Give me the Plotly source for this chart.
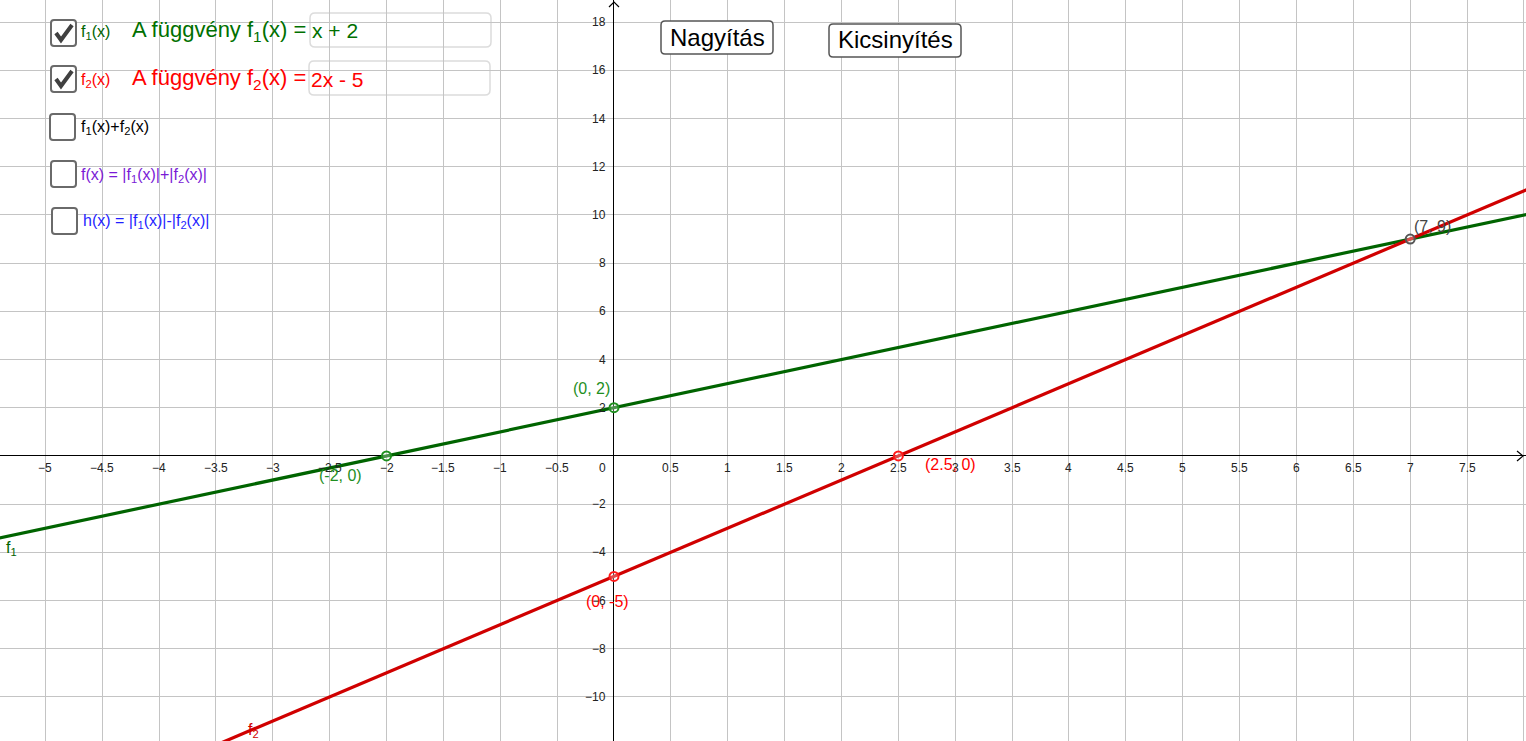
import plotly.graph_objects as go

W, H = 1526, 741
X_RANGE = [-5.398, 8.018]
Y_RANGE = [-11.83, 18.92]

# ---- data ----
x_tick_vals = [-5, -4.5, -4, -3.5, -3, -2.5, -2, -1.5, -1, -0.5,
               0.5, 1, 1.5, 2, 2.5, 3, 3.5, 4, 4.5, 5, 5.5, 6, 6.5, 7, 7.5]
x_tick_text = ["\u22125", "\u22124.5", "\u22124", "\u22123.5", "\u22123", "\u22122.5", "\u22122",
               "\u22121.5", "\u22121", "\u22120.5", "0.5", "1", "1.5", "2", "2.5", "3", "3.5",
               "4", "4.5", "5", "5.5", "6", "6.5", "7", "7.5"]
y_tick_vals = [-10, -8, -6, -4, -2, 2, 4, 6, 8, 10, 12, 14, 16, 18]
y_tick_text = ["\u221210", "\u22128", "\u22126", "\u22124", "\u22122",
               "2", "4", "6", "8", "10", "12", "14", "16", "18"]

f1_x = [-5.6, 8.2]
f1_y = [-3.6, 10.2]
f2_x = [-5.6, 8.2]
f2_y = [-16.2, 11.4]

pt_x = [0, -2, 2.5, 0, 7]
pt_y = [2, 0, 0, -5, 9]
pt_labels = ["(0, 2)", "(-2, 0)", "(2.5, 0)", "(0, -5)", "(7, 9)"]
pt_colors = ["#1f8f1f", "#1f8f1f", "#ff1a1a", "#ff1a1a", "#555555"]
pt_text_colors = ["#1f8f1f", "#1f8f1f", "#ff0000", "#ff0000", "#444444"]
pt_shift_x = [-22, -46, 52, -6, 22]
pt_shift_y = [19, -20, -9, -25, 13]

GREEN = "#006400"
RED = "#d00000"
FONT = "Liberation Sans, Arial, sans-serif"


def px(x):
    return x / W


def py(y):
    return 1 - y / H


def rrect(x0, y0, x1, y1, r):
    rx, ry = r, r
    pts = [
        f"M {px(x0 + rx)},{py(y0)}",
        f"L {px(x1 - rx)},{py(y0)}",
        f"Q {px(x1)},{py(y0)} {px(x1)},{py(y0 + ry)}",
        f"L {px(x1)},{py(y1 - ry)}",
        f"Q {px(x1)},{py(y1)} {px(x1 - rx)},{py(y1)}",
        f"L {px(x0 + rx)},{py(y1)}",
        f"Q {px(x0)},{py(y1)} {px(x0)},{py(y1 - ry)}",
        f"L {px(x0)},{py(y0 + ry)}",
        f"Q {px(x0)},{py(y0)} {px(x0 + rx)},{py(y0)}",
        "Z",
    ]
    return " ".join(pts)


def poly(points):
    return "M " + " L ".join(f"{px(a)},{py(b)}" for a, b in points)


fig = go.Figure()

fig.add_trace(go.Scatter(x=f1_x, y=f1_y, mode="lines",
                         line=dict(color=GREEN, width=3.2), hoverinfo="skip"))
fig.add_trace(go.Scatter(x=f2_x, y=f2_y, mode="lines",
                         line=dict(color=RED, width=3.2), hoverinfo="skip"))
fig.add_trace(go.Scatter(x=pt_x, y=pt_y, mode="markers",
                         marker=dict(symbol="circle", size=9, color="rgba(255,255,255,0.3)",
                                     line=dict(color=pt_colors, width=2)),
                         hoverinfo="skip"))

ann = []
# tick labels
for v, t in zip(x_tick_vals, x_tick_text):
    ann.append(dict(x=v, y=0, xref="x", yref="y", text=t, showarrow=False,
                    xanchor="center", yanchor="middle", yshift=-12,
                    font=dict(family=FONT, size=12, color="#222")))
ann.append(dict(x=0, y=0, xref="x", yref="y", text="0", showarrow=False,
                xanchor="center", yanchor="middle", yshift=-12, xshift=-11,
                font=dict(family=FONT, size=12, color="#222")))
for v, t in zip(y_tick_vals, y_tick_text):
    ann.append(dict(x=0, y=v, xref="x", yref="y", text=t, showarrow=False,
                    xanchor="right", yanchor="middle", xshift=-6,
                    font=dict(family=FONT, size=12, color="#222")))

# point labels
for xv, yv, t, c, sx, sy in zip(pt_x, pt_y, pt_labels, pt_text_colors, pt_shift_x, pt_shift_y):
    ann.append(dict(x=xv, y=yv, xref="x", yref="y", text=t, showarrow=False,
                    xanchor="center", yanchor="middle", xshift=sx, yshift=sy,
                    font=dict(family=FONT, size=16, color=c)))

# curve labels
ann.append(dict(x=px(4), y=py(548), xref="paper", yref="paper", text="f<sub>1</sub>",
                showarrow=False, xanchor="left", yanchor="middle",
                font=dict(family=FONT, size=16, color=GREEN)))
ann.append(dict(x=px(246), y=py(730), xref="paper", yref="paper", text="f<sub>2</sub>",
                showarrow=False, xanchor="left", yanchor="middle",
                font=dict(family=FONT, size=16, color=RED)))

# UI texts
def ui_text(x, y, text, size, color):
    ann.append(dict(x=px(x), y=py(y), xref="paper", yref="paper", text=text,
                    showarrow=False, xanchor="left", yanchor="middle",
                    font=dict(family=FONT, size=size, color=color)))


ui_text(79, 33, "f<sub>1</sub>(x)", 16, GREEN)
ui_text(130, 31, "A függvény f<sub>1</sub>(x) =", 22, "#007000")
ui_text(310, 31, "x + 2", 21, "#007000")
ui_text(79, 80, "f<sub>2</sub>(x)", 16, "#ff0000")
ui_text(130, 79, "A függvény f<sub>2</sub>(x) =", 22, "#ff0000")
ui_text(309, 79, "2x - 5", 21, "#ff0000")
ui_text(79, 128, "f<sub>1</sub>(x)+f<sub>2</sub>(x)", 16, "#000000")
ui_text(79, 175, "f(x) = |f<sub>1</sub>(x)|+|f<sub>2</sub>(x)|", 16, "#7a1ad6")
ui_text(81, 222, "h(x) = |f<sub>1</sub>(x)|-|f<sub>2</sub>(x)|", 16, "#1f1fff")

# buttons
ann.append(dict(x=px(717), y=py(37), xref="paper", yref="paper", text="Nagyítás",
                showarrow=False, xanchor="center", yanchor="middle",
                font=dict(family=FONT, size=24, color="#000")))
ann.append(dict(x=px(895), y=py(40), xref="paper", yref="paper", text="Kicsinyítés",
                showarrow=False, xanchor="center", yanchor="middle",
                font=dict(family=FONT, size=24, color="#000")))

shapes = []
# input boxes
shapes.append(dict(type="path", xref="paper", yref="paper", path=rrect(310, 13, 491, 47, 5),
                   line=dict(color="#dcdcdc", width=1.5), fillcolor="white", layer="below"))
shapes.append(dict(type="path", xref="paper", yref="paper", path=rrect(309, 61, 490, 95, 5),
                   line=dict(color="#dcdcdc", width=1.5), fillcolor="white", layer="below"))
# checkboxes
for (x0, y0) in [(51, 20), (51, 66), (50, 114), (51, 161), (52, 208)]:
    shapes.append(dict(type="path", xref="paper", yref="paper",
                       path=rrect(x0, y0, x0 + 25, y0 + 26, 3),
                       line=dict(color="#6a6a6a", width=2), fillcolor="white"))
# check marks
for (x0, y0) in [(51, 20), (51, 66)]:
    shapes.append(dict(type="path", xref="paper", yref="paper",
                       path=poly([(x0 + 5, y0 + 13), (x0 + 10, y0 + 20), (x0 + 21, y0 + 5)]),
                       line=dict(color="#404040", width=4)))
# buttons
shapes.append(dict(type="path", xref="paper", yref="paper", path=rrect(661, 21, 773, 54, 4),
                   line=dict(color="#555555", width=1.5), fillcolor="white"))
shapes.append(dict(type="path", xref="paper", yref="paper", path=rrect(829, 24, 961, 57, 4),
                   line=dict(color="#555555", width=1.5), fillcolor="white"))
# axis arrows
shapes.append(dict(type="path", xref="paper", yref="paper",
                   path=poly([(609, 7), (614, 2), (619, 7)]),
                   line=dict(color="#000", width=1.2)))
shapes.append(dict(type="path", xref="paper", yref="paper",
                   path=poly([(1517, 451), (1523, 456), (1517, 461)]),
                   line=dict(color="#000", width=1.2)))

fig.update_layout(
    width=W, height=H,
    margin=dict(l=0, r=0, t=0, b=0, pad=0),
    paper_bgcolor="white", plot_bgcolor="white",
    showlegend=False,
    annotations=ann, shapes=shapes,
    xaxis=dict(range=X_RANGE, dtick=0.5, tick0=0, showgrid=True, gridcolor="#c4c4c4",
               gridwidth=1, zeroline=True, zerolinecolor="#000", zerolinewidth=1.2,
               showticklabels=False, ticks="", fixedrange=True),
    yaxis=dict(range=Y_RANGE, dtick=2, tick0=0, showgrid=True, gridcolor="#c4c4c4",
               gridwidth=1, zeroline=True, zerolinecolor="#000", zerolinewidth=1.2,
               showticklabels=False, ticks="", fixedrange=True),
    hovermode=False,
)

fig.write_html("out.html", config={"displayModeBar": False},
               post_script="document.body.style.margin='0';")
